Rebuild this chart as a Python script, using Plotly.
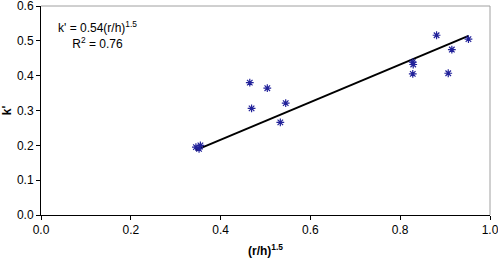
import plotly.graph_objects as go

# Data
x_vals = [0.345, 0.352, 0.355, 0.465, 0.469, 0.504, 0.533, 0.545, 0.828, 0.829, 0.828, 0.881, 0.907, 0.915, 0.952]
y_vals = [0.195, 0.190, 0.200, 0.380, 0.306, 0.364, 0.266, 0.321, 0.439, 0.432, 0.405, 0.516, 0.407, 0.475, 0.505]
fit_coef = 0.54
r_squared = 0.76
x_ticks = [0.0, 0.2, 0.4, 0.6, 0.8, 1.0]
y_ticks = [0.0, 0.1, 0.2, 0.3, 0.4, 0.5, 0.6]

line_x = [min(x_vals), max(x_vals)]
line_y = [fit_coef * v for v in line_x]

font = "Liberation Sans, Arial, sans-serif"

fig = go.Figure()
fig.add_trace(go.Scatter(
    x=line_x, y=line_y, mode="lines",
    line=dict(color="black", width=2), showlegend=False, hoverinfo="skip"))
fig.add_trace(go.Scatter(
    x=x_vals, y=y_vals, mode="markers",
    marker=dict(symbol="asterisk-open", size=6.5, color="#22229a",
                line=dict(color="#22229a", width=1.2)),
    showlegend=False))

fig.update_layout(
    width=498, height=261,
    margin=dict(l=41, r=8, t=6, b=46),
    paper_bgcolor="white", plot_bgcolor="white",
    font=dict(family=font, size=12, color="black"),
    xaxis=dict(range=[0, 1.0], tickvals=x_ticks, tickformat=".1f", automargin=False,
               ticklabeloverflow="allow",
               showgrid=False, zeroline=False, showline=True, linecolor="black",
               linewidth=1, ticks="outside", ticklen=4, tickcolor="black",
               title=dict(text="<b>(r/h)<sup>1.5</sup></b>", font=dict(size=12), standoff=10)),
    yaxis=dict(range=[0, 0.6], tickvals=y_ticks, tickformat=".1f", automargin=False,
               ticklabeloverflow="allow",
               showgrid=False, zeroline=False, showline=True, linecolor="black",
               linewidth=1, ticks="outside", ticklen=4, tickcolor="black",
               title=dict(text="<b>k'</b>", font=dict(size=12), standoff=2)),
    shapes=[
        dict(type="line", xref="paper", yref="paper", x0=0, x1=1, y0=1, y1=1,
             line=dict(color="#a0a0a0", width=1)),
        dict(type="line", xref="paper", yref="paper", x0=1, x1=1, y0=0, y1=1,
             line=dict(color="#a0a0a0", width=1)),
    ],
    annotations=[
        dict(xref="paper", yref="paper", x=0.126, y=0.86, xanchor="center", yanchor="middle",
             text="k' = %.2f(r/h)<sup>1.5</sup><br>R<sup>2</sup> = %.2f" % (fit_coef, r_squared),
             showarrow=False, align="center", font=dict(size=12)),
    ],
)

fig.write_html("out.html", config={"displayModeBar": False},
               post_script="document.body.style.margin='0';")
